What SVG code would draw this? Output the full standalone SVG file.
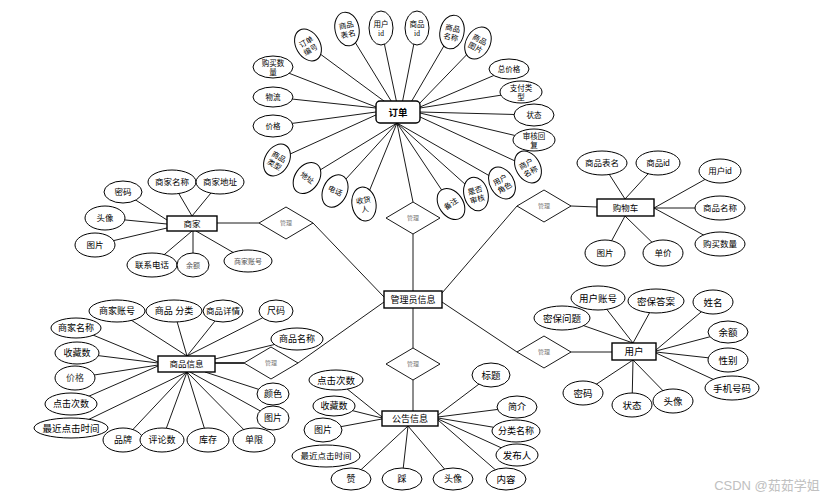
<svg xmlns="http://www.w3.org/2000/svg" width="837" height="501" viewBox="0 0 837 501">
<style>
.e{fill:#fff;stroke:#000;stroke-width:1}
.b{fill:#fff;stroke:#000;stroke-width:1.4}
.d{fill:#fff;stroke:#000;stroke-width:0.9}
#connectors line{stroke:#000;stroke-width:0.9}
text{font-family:"Liberation Sans","Noto Sans CJK SC",sans-serif;text-anchor:middle;dominant-baseline:central;fill:#000}
.s{font-family:"Liberation Serif","Noto Sans CJK SC",serif;font-size:7.5px}
.k{font-size:8.5px}
.t{font-size:9px}
.u{font-size:9.5px}
.g{font-size:7px;fill:#555}
.m{font-size:6px;fill:#777}
.h{font-size:9.5px;font-weight:bold}
.w{font-size:13px;fill:#c0c0c0}
</style>
<rect width="837" height="501" fill="#fff"/>
<g id="connectors">
<!-- order -->
<line x1="388" y1="104" x2="308" y2="45"/>
<line x1="393" y1="104" x2="347" y2="29"/>
<line x1="397" y1="104" x2="381" y2="28"/>
<line x1="402" y1="104" x2="417" y2="28"/>
<line x1="410" y1="104" x2="452" y2="32"/>
<line x1="418" y1="105" x2="478" y2="43"/>
<line x1="376" y1="107" x2="273" y2="67"/>
<line x1="376" y1="108" x2="273" y2="97"/>
<line x1="376" y1="112" x2="273" y2="126"/>
<line x1="378" y1="114" x2="277" y2="160"/>
<line x1="420" y1="107" x2="509" y2="69"/>
<line x1="420" y1="108" x2="521" y2="92"/>
<line x1="420" y1="112" x2="534" y2="115"/>
<line x1="420" y1="113" x2="534" y2="140"/>
<line x1="418" y1="116" x2="528" y2="167"/>
<line x1="397" y1="123" x2="307" y2="178"/>
<line x1="397" y1="123" x2="335" y2="191"/>
<line x1="397" y1="123" x2="364" y2="204"/>
<line x1="397" y1="123" x2="451" y2="204"/>
<line x1="397" y1="123" x2="476" y2="194"/>
<line x1="397" y1="123" x2="502" y2="183"/>
<line x1="397" y1="123" x2="413" y2="202"/>
<line x1="413" y1="234" x2="413" y2="291"/>
<!-- merchant -->
<line x1="167" y1="220" x2="123" y2="192"/>
<line x1="167" y1="224" x2="105" y2="218"/>
<line x1="167" y1="228" x2="95" y2="245"/>
<line x1="192" y1="216" x2="172" y2="182"/>
<line x1="192" y1="216" x2="220" y2="182"/>
<line x1="192" y1="231" x2="152" y2="265"/>
<line x1="193" y1="231" x2="193" y2="265"/>
<line x1="196" y1="231" x2="248" y2="261"/>
<line x1="217" y1="223" x2="259" y2="223"/>
<line x1="313" y1="223" x2="384" y2="297"/>
<!-- cart -->
<line x1="625" y1="199" x2="602" y2="163"/>
<line x1="625" y1="199" x2="658" y2="163"/>
<line x1="654" y1="208" x2="720" y2="171"/>
<line x1="654" y1="208" x2="720" y2="208"/>
<line x1="654" y1="208" x2="720" y2="244"/>
<line x1="625" y1="216" x2="663" y2="253"/>
<line x1="625" y1="216" x2="605" y2="253"/>
<line x1="571" y1="206" x2="597" y2="207"/>
<line x1="517" y1="206" x2="442" y2="293"/>
<!-- product -->
<line x1="187" y1="356" x2="117" y2="311"/>
<line x1="187" y1="356" x2="174" y2="311"/>
<line x1="187" y1="356" x2="223" y2="311"/>
<line x1="187" y1="356" x2="276" y2="311"/>
<line x1="158" y1="362" x2="76" y2="328"/>
<line x1="158" y1="363" x2="77" y2="353"/>
<line x1="158" y1="365" x2="75" y2="378"/>
<line x1="158" y1="366" x2="71" y2="404"/>
<line x1="187" y1="372" x2="71" y2="428"/>
<line x1="187" y1="372" x2="123" y2="440"/>
<line x1="187" y1="372" x2="162" y2="440"/>
<line x1="187" y1="372" x2="208" y2="440"/>
<line x1="187" y1="372" x2="254" y2="440"/>
<line x1="190" y1="372" x2="273" y2="418"/>
<line x1="205" y1="372" x2="273" y2="394"/>
<line x1="215" y1="359" x2="297" y2="339"/>
<line x1="215" y1="363" x2="244" y2="363" style="stroke-width:1.6"/>
<line x1="298" y1="363" x2="384" y2="302"/>
<!-- user -->
<line x1="633" y1="343" x2="562" y2="318"/>
<line x1="633" y1="343" x2="598" y2="298"/>
<line x1="633" y1="343" x2="656" y2="301"/>
<line x1="656" y1="350" x2="713" y2="302"/>
<line x1="656" y1="351" x2="728" y2="332"/>
<line x1="656" y1="352" x2="728" y2="360"/>
<line x1="656" y1="353" x2="732" y2="388"/>
<line x1="633" y1="360" x2="583" y2="393"/>
<line x1="633" y1="360" x2="632" y2="405"/>
<line x1="633" y1="360" x2="673" y2="401"/>
<line x1="571" y1="352" x2="612" y2="352"/>
<line x1="517" y1="352" x2="442" y2="302"/>
<!-- announcement -->
<line x1="413" y1="348" x2="413" y2="308"/>
<line x1="413" y1="380" x2="413" y2="411"/>
<line x1="382" y1="417" x2="336" y2="380"/>
<line x1="382" y1="418" x2="334" y2="406"/>
<line x1="382" y1="419" x2="323" y2="430"/>
<line x1="408" y1="426" x2="351" y2="479"/>
<line x1="408" y1="426" x2="402" y2="479"/>
<line x1="408" y1="426" x2="453" y2="479"/>
<line x1="438" y1="420" x2="506" y2="479"/>
<line x1="438" y1="419" x2="517" y2="455"/>
<line x1="438" y1="418" x2="516" y2="431"/>
<line x1="438" y1="417" x2="517" y2="407"/>
<line x1="438" y1="415" x2="491" y2="375"/>
</g>

<!-- relationships -->
<g id="rel-merchant"><polygon class="d" points="286,207 313,223 286,239 259,223"/><text class="m" x="286" y="223">管理</text></g>
<g id="rel-order"><polygon class="d" points="413,202 440,218 413,234 386,218"/><text class="m" x="413" y="218">管理</text></g>
<g id="rel-cart"><polygon class="d" points="544,190 571,206 544,222 517,206"/><text class="m" x="544" y="206">管理</text></g>
<g id="rel-product"><polygon class="d" points="271,347 298,363 271,379 244,363"/><text class="m" x="271" y="363">管理</text></g>
<g id="rel-notice"><polygon class="d" points="413,348 440,364 413,380 386,364"/><text class="m" x="413" y="364">管理</text></g>
<g id="rel-user"><polygon class="d" points="544,336 571,352 544,368 517,352"/><text class="m" x="544" y="352">管理</text></g>

<!-- entities -->
<g id="order"><rect class="b" x="376" y="101" width="44" height="22" rx="4"/><text class="h" x="398" y="112">订单</text></g>
<g id="admin"><rect class="b" x="384" y="291" width="58" height="17"/><text class="t" x="413" y="299.5">管理员信息</text></g>
<g id="merchant"><rect class="b" x="167" y="216" width="50" height="15"/><text class="k" x="192" y="223.5">商家</text></g>
<g id="cart"><rect class="b" x="597" y="199" width="57" height="17"/><text class="k" x="625.5" y="207.5">购物车</text></g>
<g id="product"><rect class="b" x="158" y="356" width="57" height="16"/><text class="k" x="186.5" y="364">商品信息</text></g>
<g id="user"><rect class="b" x="612" y="343" width="44" height="17"/><text class="u" x="634" y="351.5">用户</text></g>
<g id="notice"><rect class="b" x="382" y="411" width="56" height="15"/><text class="t" x="410" y="418.5">公告信息</text></g>

<!-- order attributes -->
<g id="o1" transform="translate(308,45) rotate(-30)"><ellipse class="e" rx="12" ry="17"/><text class="s"><tspan x="0" y="-4">订单</tspan><tspan x="0" y="5">编号</tspan></text></g>
<g id="o2" transform="translate(347,29) rotate(-12)"><ellipse class="e" rx="12" ry="17"/><text class="s"><tspan x="0" y="-4">商品</tspan><tspan x="0" y="5">表名</tspan></text></g>
<g id="o3" transform="translate(381,28)"><ellipse class="e" rx="12" ry="17"/><text class="s"><tspan x="0" y="-4">用户</tspan><tspan x="0" y="5">id</tspan></text></g>
<g id="o4" transform="translate(417,28)"><ellipse class="e" rx="12" ry="17"/><text class="s"><tspan x="0" y="-4">商品</tspan><tspan x="0" y="5">id</tspan></text></g>
<g id="o5" transform="translate(452,32) rotate(12)"><ellipse class="e" rx="12" ry="17"/><text class="s"><tspan x="0" y="-4">商品</tspan><tspan x="0" y="5">名称</tspan></text></g>
<g id="o6" transform="translate(478,43) rotate(28)"><ellipse class="e" rx="12" ry="17"/><text class="s"><tspan x="0" y="-4">商品</tspan><tspan x="0" y="5">图片</tspan></text></g>
<g id="o7"><ellipse class="e" cx="273" cy="67" rx="20" ry="11"/><text class="s"><tspan x="273" y="63">购买数</tspan><tspan x="273" y="72">量</tspan></text></g>
<g id="o8"><ellipse class="e" cx="273" cy="97" rx="20" ry="10"/><text class="s" x="273" y="97">物流</text></g>
<g id="o9"><ellipse class="e" cx="273" cy="126" rx="20" ry="11"/><text class="s" x="273" y="126">价格</text></g>
<g id="o10"><ellipse class="e" cx="509" cy="69" rx="20" ry="10"/><text class="s" x="509" y="69">总价格</text></g>
<g id="o11"><ellipse class="e" cx="521" cy="92" rx="21" ry="11"/><text class="s"><tspan x="521" y="88">支付类</tspan><tspan x="521" y="97">型</tspan></text></g>
<g id="o12"><ellipse class="e" cx="534" cy="115" rx="20" ry="11"/><text class="s" x="534" y="115">状态</text></g>
<g id="o13"><ellipse class="e" cx="534" cy="140" rx="21" ry="11"/><text class="s"><tspan x="534" y="136">审核回</tspan><tspan x="534" y="145">复</tspan></text></g>
<g id="o14" transform="translate(277,160) rotate(30)"><ellipse class="e" rx="12" ry="17"/><text class="s"><tspan x="0" y="-4">商品</tspan><tspan x="0" y="5">类型</tspan></text></g>
<g id="o15" transform="translate(307,178) rotate(35)"><ellipse class="e" rx="12" ry="17"/><text class="s" x="0" y="0">地址</text></g>
<g id="o16" transform="translate(335,191) rotate(25)"><ellipse class="e" rx="12" ry="17"/><text class="s" x="0" y="0">电话</text></g>
<g id="o17" transform="translate(364,204) rotate(-10)"><ellipse class="e" rx="12" ry="17"/><text class="s"><tspan x="0" y="-4">收货</tspan><tspan x="0" y="5">人</tspan></text></g>
<g id="o18" transform="translate(451,204) rotate(-35)"><ellipse class="e" rx="12" ry="17"/><text class="s" x="0" y="0">备注</text></g>
<g id="o19" transform="translate(476,194) rotate(-15)"><ellipse class="e" rx="12" ry="17"/><text class="s"><tspan x="0" y="-4">是否</tspan><tspan x="0" y="5">审核</tspan></text></g>
<g id="o20" transform="translate(502,183) rotate(-30)"><ellipse class="e" rx="12" ry="17"/><text class="s"><tspan x="0" y="-4">用户</tspan><tspan x="0" y="5">角色</tspan></text></g>
<g id="o21" transform="translate(528,167) rotate(-30)"><ellipse class="e" rx="12" ry="17"/><text class="s"><tspan x="0" y="-4">商户</tspan><tspan x="0" y="5">名称</tspan></text></g>

<!-- merchant attributes -->
<g id="m1"><ellipse class="e" cx="123" cy="192" rx="19" ry="11"/><text class="k" x="123" y="192">密码</text></g>
<g id="m2"><ellipse class="e" cx="172" cy="182" rx="24" ry="12"/><text class="k" x="172" y="182">商家名称</text></g>
<g id="m3"><ellipse class="e" cx="220" cy="182" rx="24" ry="12"/><text class="k" x="220" y="182">商家地址</text></g>
<g id="m4"><ellipse class="e" cx="105" cy="218" rx="20" ry="12"/><text class="k" x="105" y="218">头像</text></g>
<g id="m5"><ellipse class="e" cx="95" cy="245" rx="20" ry="12"/><text class="k" x="95" y="245">图片</text></g>
<g id="m6"><ellipse class="e" cx="152" cy="265" rx="25" ry="12"/><text class="k" x="152" y="265">联系电话</text></g>
<g id="m7"><ellipse class="e" cx="193" cy="265" rx="16" ry="12"/><text class="g" x="193" y="265">余额</text></g>
<g id="m8"><ellipse class="e" cx="248" cy="261" rx="24" ry="11"/><text class="g" x="248" y="261">商家账号</text></g>

<!-- cart attributes -->
<g id="c1"><ellipse class="e" cx="602" cy="163" rx="25" ry="12"/><text class="k" x="602" y="163">商品表名</text></g>
<g id="c2"><ellipse class="e" cx="658" cy="163" rx="22" ry="12"/><text class="k" x="658" y="163">商品id</text></g>
<g id="c3"><ellipse class="e" cx="720" cy="171" rx="21" ry="12"/><text class="k" x="720" y="171">用户id</text></g>
<g id="c4"><ellipse class="e" cx="720" cy="208" rx="25" ry="12"/><text class="k" x="720" y="208">商品名称</text></g>
<g id="c5"><ellipse class="e" cx="720" cy="244" rx="25" ry="12"/><text class="k" x="720" y="244">购买数量</text></g>
<g id="c6"><ellipse class="e" cx="663" cy="253" rx="20" ry="13"/><text class="k" x="663" y="253">单价</text></g>
<g id="c7"><ellipse class="e" cx="605" cy="253" rx="20" ry="13"/><text class="k" x="605" y="253">图片</text></g>

<!-- product attributes -->
<g id="p1"><ellipse class="e" cx="117" cy="311" rx="28" ry="11"/><text class="t" x="117" y="311">商家账号</text></g>
<g id="p2"><ellipse class="e" cx="174" cy="311" rx="28" ry="11"/><text class="t" x="174" y="311">商品 分类</text></g>
<g id="p3"><ellipse class="e" cx="223" cy="311" rx="20" ry="11"/><text class="k" x="223" y="311">商品详情</text></g>
<g id="p4"><ellipse class="e" cx="276" cy="311" rx="17" ry="11"/><text class="t" x="276" y="311">尺码</text></g>
<g id="p5"><ellipse class="e" cx="76" cy="328" rx="25" ry="10"/><text class="t" x="76" y="328">商家名称</text></g>
<g id="p6"><ellipse class="e" cx="77" cy="353" rx="22" ry="11"/><text class="t" x="77" y="353">收藏数</text></g>
<g id="p7"><ellipse class="e" cx="75" cy="378" rx="20" ry="12"/><text class="t" x="75" y="378" style="fill:#333">价格</text></g>
<g id="p8"><ellipse class="e" cx="71" cy="404" rx="26" ry="11"/><text class="t" x="71" y="404">点击次数</text></g>
<g id="p9"><ellipse class="e" cx="71" cy="428" rx="37" ry="10"/><text class="u" x="71" y="428">最近点击时间</text></g>
<g id="p10"><ellipse class="e" cx="123" cy="440" rx="20" ry="12"/><text class="t" x="123" y="440">品牌</text></g>
<g id="p11"><ellipse class="e" cx="162" cy="440" rx="22" ry="12"/><text class="t" x="162" y="440">评论数</text></g>
<g id="p12"><ellipse class="e" cx="208" cy="440" rx="21" ry="12"/><text class="t" x="208" y="440">库存</text></g>
<g id="p13"><ellipse class="e" cx="254" cy="440" rx="21" ry="12"/><text class="t" x="254" y="440">单限</text></g>
<g id="p14"><ellipse class="e" cx="273" cy="394" rx="16" ry="11"/><text class="t" x="273" y="394">颜色</text></g>
<g id="p15"><ellipse class="e" cx="273" cy="418" rx="16" ry="12"/><text class="t" x="273" y="418">图片</text></g>
<g id="p16"><ellipse class="e" cx="297" cy="339" rx="26" ry="11"/><text class="t" x="297" y="339">商品名称</text></g>

<!-- user attributes -->
<g id="u1"><ellipse class="e" cx="598" cy="298" rx="27" ry="12"/><text class="u" x="598" y="298">用户账号</text></g>
<g id="u2"><ellipse class="e" cx="656" cy="301" rx="28" ry="12"/><text class="u" x="656" y="301">密保答案</text></g>
<g id="u3"><ellipse class="e" cx="713" cy="302" rx="20" ry="12"/><text class="u" x="713" y="302">姓名</text></g>
<g id="u4"><ellipse class="e" cx="562" cy="318" rx="28" ry="12"/><text class="u" x="562" y="318">密保问题</text></g>
<g id="u5"><ellipse class="e" cx="728" cy="332" rx="20" ry="11"/><text class="u" x="728" y="332">余额</text></g>
<g id="u6"><ellipse class="e" cx="728" cy="360" rx="20" ry="12"/><text class="u" x="728" y="360">性别</text></g>
<g id="u7"><ellipse class="e" cx="732" cy="388" rx="27" ry="12"/><text class="u" x="732" y="388">手机号码</text></g>
<g id="u8"><ellipse class="e" cx="583" cy="393" rx="20" ry="12"/><text class="u" x="583" y="393">密码</text></g>
<g id="u9"><ellipse class="e" cx="632" cy="405" rx="20" ry="12"/><text class="u" x="632" y="405">状态</text></g>
<g id="u10"><ellipse class="e" cx="673" cy="401" rx="20" ry="12"/><text class="u" x="673" y="401">头像</text></g>

<!-- notice attributes -->
<g id="n1"><ellipse class="e" cx="336" cy="380" rx="27" ry="10"/><text class="u" x="336" y="380">点击次数</text></g>
<g id="n2"><ellipse class="e" cx="334" cy="406" rx="21" ry="10"/><text class="t" x="334" y="406">收藏数</text></g>
<g id="n3"><ellipse class="e" cx="323" cy="430" rx="19" ry="12"/><text class="t" x="323" y="430">图片</text></g>
<g id="n4"><ellipse class="e" cx="326" cy="456" rx="34" ry="11"/><text class="k" x="326" y="456">最近点击时间</text></g>
<g id="n5"><ellipse class="e" cx="351" cy="479" rx="20" ry="11"/><text class="t" x="351" y="479">赞</text></g>
<g id="n6"><ellipse class="e" cx="402" cy="479" rx="20" ry="11"/><text class="t" x="402" y="479">踩</text></g>
<g id="n7"><ellipse class="e" cx="453" cy="479" rx="20" ry="11"/><text class="t" x="453" y="479">头像</text></g>
<g id="n8"><ellipse class="e" cx="506" cy="479" rx="20" ry="11"/><text class="u" x="506" y="479">内容</text></g>
<g id="n9"><ellipse class="e" cx="517" cy="455" rx="21" ry="11"/><text class="u" x="517" y="455">发布人</text></g>
<g id="n10"><ellipse class="e" cx="516" cy="431" rx="24" ry="11"/><text class="t" x="516" y="431">分类名称</text></g>
<g id="n11"><ellipse class="e" cx="517" cy="407" rx="20" ry="11"/><text class="t" x="517" y="407">简介</text></g>
<g id="n12"><ellipse class="e" cx="491" cy="375" rx="19" ry="12"/><text class="u" x="491" y="375">标题</text></g>

<text class="w" x="767" y="485">CSDN @茹茹学姐</text>
</svg>
